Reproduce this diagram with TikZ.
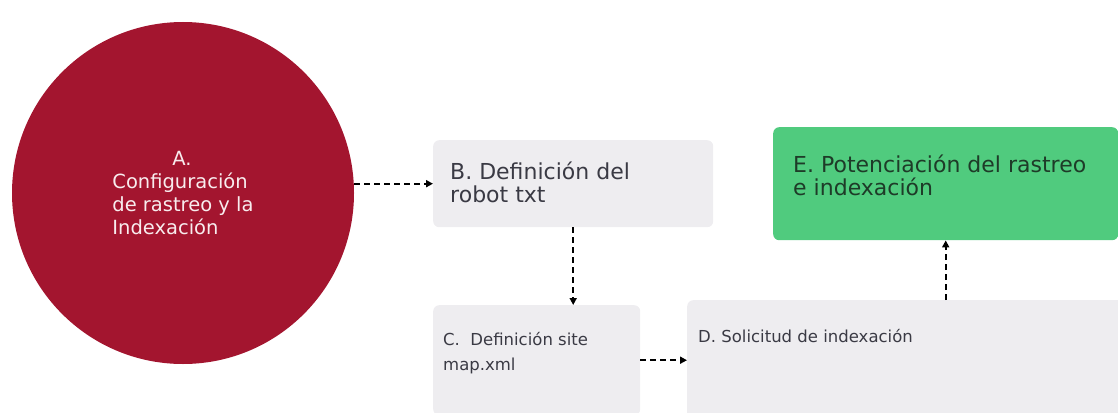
\documentclass[tikz,border=0pt]{standalone}
\usepackage{fontspec}
\usepackage{xcolor}
\usetikzlibrary{positioning,arrows.meta}
\setmainfont{DejaVu Sans}

\definecolor{crimson}{HTML}{A3152F}
\definecolor{boxgray}{HTML}{EEEDF0}
\definecolor{boxgreen}{HTML}{50CB7E}
\definecolor{txtgray}{HTML}{3A3A44}
\definecolor{txtgreen}{HTML}{1E3B28}

\tikzset{
  stagebox/.style={rectangle,rounded corners=6pt,fill=boxgray,draw=none,anchor=north west},
  stagetxt/.style={anchor=base west,align=left,inner sep=0pt,text=txtgray},
  bigtxt/.style={font=\fontsize{22}{23}\selectfont},
  smalltxt/.style={font=\fontsize{16.5}{25}\selectfont},
  flow/.style={dashed,dash pattern=on 6pt off 4pt,line width=1.8pt,
    -{Triangle[length=7pt,width=7pt]}}
}

\begin{document}
\begin{tikzpicture}[x=1pt,y=-1pt]
\useasboundingbox (0,0) rectangle (1118,412);
\clip (0,0) rectangle (1118,412);
\node (a) at (183,193) [circle,fill=crimson,minimum size=342pt,inner sep=0pt,
  align=left,text=white!92!crimson,font=\fontsize{19.5}{22.7}\selectfont]
  {\hspace*{60pt}A.\\Configuración\\de rastreo y la\\Indexación};
\node (b) at (433,140) [stagebox,minimum width=280pt,minimum height=87pt] {};
\node (c) at (433,305) [stagebox,minimum width=207pt,minimum height=110pt] {};
\node (d) at (687,300) [stagebox,minimum width=460pt,minimum height=140pt] {};
\node (e) at (773,127) [stagebox,fill=boxgreen,minimum width=345pt,minimum height=113pt] {};
% last-line baselines
\node (btext) at (450,202) [stagetxt,bigtxt] {B. Definición del\\robot txt};
\node (ctext) at (443,370) [stagetxt,smalltxt] {C.\ \ Definición site\\map.xml};
\node (dtext) at (698,342) [stagetxt,smalltxt] {D. Solicitud de indexación};
\node (etext) at (793,195) [stagetxt,bigtxt,text=txtgreen] {E. Potenciación del rastreo\\e indexación};
\draw[flow] (b.west -| a.east) -- (b.west);
\draw[flow] (b.south) -- (b.south |- c.north);
\draw[flow] (c.east) -- (c.east -| d.west);
\draw[flow] (e.south |- d.north) -- (e.south);
\end{tikzpicture}
\end{document}
